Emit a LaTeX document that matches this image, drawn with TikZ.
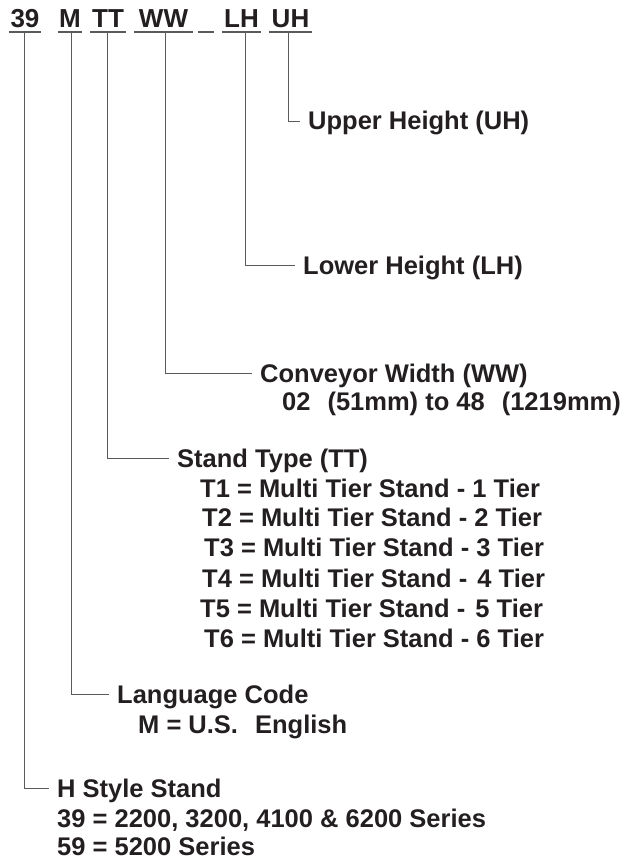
\documentclass[tikz,border=0pt]{standalone}
\usepackage{fontspec}
\setmainfont{Liberation Sans}
\definecolor{ink}{HTML}{231F20}
\definecolor{rulec}{HTML}{5A5A5A}
\begin{document}
\begin{tikzpicture}[x=1pt,y=-1pt,
  code/.style={font=\fontsize{26}{30}\selectfont\bfseries, text=ink, inner xsep=0pt, inner ysep=0pt, anchor=base, text height=18pt, text depth=4pt},
  lab/.style={font=\fontsize{25.5}{30}\selectfont\bfseries, text=ink, inner sep=0pt, anchor=base west, text height=18pt, text depth=0pt},
  conn/.style={draw=rulec, line width=0.9pt, shorten >=8pt},
  uline/.style={draw=rulec, line width=1.4pt}]
\useasboundingbox (0,0) rectangle (627,861);
% header codes
\node[code, minimum width=32pt] (c39) at (25,28) {39};
\node[code, minimum width=24pt] (cM) at (70,28) {M};
\node[code, minimum width=36pt] (cTT) at (108,28) {TT};
\node[code, minimum width=59pt] (cWW) at (163.5,28) {WW};
\node[code, minimum width=16pt] (cUS) at (206,28) {};
\node[code, minimum width=39pt] (cLH) at (241.5,28) {LH};
\node[code, minimum width=43pt] (cUH) at (290.5,28) {UH};
\foreach \n in {c39,cM,cTT,cWW,cUS,cLH,cUH}
  \draw[uline] (\n.south west) -- (\n.south east);
% labels
\node[lab] (lUH) at (308,130) {Upper Height (UH)};
\node[lab] (lLH) at (303,274) {Lower Height (LH)};
\node[lab] (lWW) at (260,382) {Conveyor Width (WW)};
\node[lab] (sWW) at (282,410) {02\hspace{17pt}(51mm) to 48\hspace{17pt}(1219mm)};
\node[lab] (lTT) at (177,467) {Stand Type (TT)};
\node[lab] (t1) at (200,497) {T1 = Multi Tier Stand - 1 Tier};
\node[lab] (t2) at (202,526) {T2 = Multi Tier Stand - 2 Tier};
\node[lab] (t3) at (204,556) {T3 = Multi Tier Stand - 3 Tier};
\node[lab] (t4) at (202,587) {T4 = Multi Tier Stand -\hspace{10pt}4 Tier};
\node[lab] (t5) at (200,617) {T5 = Multi Tier Stand -\hspace{10pt}5 Tier};
\node[lab] (t6) at (204,647) {T6 = Multi Tier Stand - 6 Tier};
\node[lab] (lM) at (117,703) {Language Code};
\node[lab] (sM) at (138,733) {M = U.S.\hspace{17pt}English};
\node[lab] (l39) at (57,797) {H Style Stand};
\node[lab] (s39a) at (57,827) {39 = 2200, 3200, 4100 \& 6200 Series};
\node[lab] (s39b) at (57,855) {59 = 5200 Series};
% connectors
\draw[conn] ([xshift=-2.5pt]cUH.south) |- (lUH.west);
\draw[conn] ([xshift=3.5pt]cLH.south) |- (lLH.west);
\draw[conn] ([xshift=1.5pt]cWW.south) |- (lWW.west);
\draw[conn] ([xshift=-1pt]cTT.south) |- (lTT.west);
\draw[conn] ([xshift=1pt]cM.south) |- (lM.west);
\draw[conn] ([xshift=-1pt]c39.south) |- (l39.west);
\end{tikzpicture}
\end{document}
